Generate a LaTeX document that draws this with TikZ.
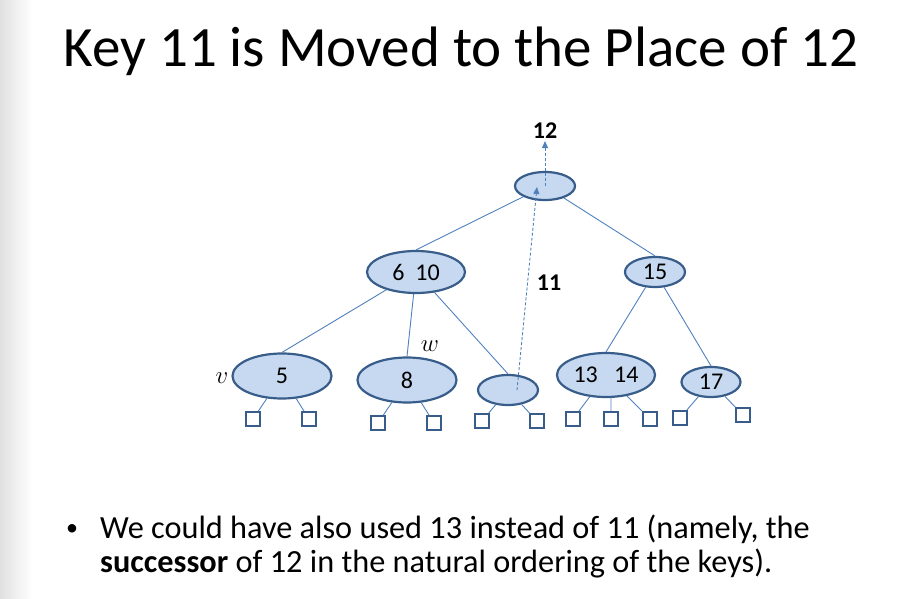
\documentclass[tikz,border=0pt]{standalone}
\usepackage{fontspec}
\setmainfont{Carlito}
\usetikzlibrary{shapes.geometric,arrows.meta}
\definecolor{keyfill}{RGB}{198,217,240}
\definecolor{keyline}{RGB}{56,93,138}
\definecolor{edgeblue}{RGB}{79,129,189}

\begin{document}
\begin{tikzpicture}[x=1pt,y=-1pt]
      \tikzset{
        key/.style={ellipse,draw=keyline,fill=keyfill,line width=2.2pt,inner sep=0pt,font=\fontsize{24}{28}\selectfont},
        leaf/.style={rectangle,draw=keyline,fill=white,line width=2pt,minimum size=14pt,inner sep=0pt},
        tedge/.style={draw=edgeblue,line width=0.9pt},
        move/.style={draw=edgeblue,line width=0.9pt,dash pattern=on 3pt off 2pt,-{Triangle[length=7pt,width=6pt]}},
        lbl/.style={font=\bfseries\fontsize{24}{28}\selectfont,inner sep=2pt}
      }
      \useasboundingbox (0,0) rectangle (922,599);
      \shade[left color=black!12,right color=white] (0,0) rectangle (32,599);

      \node[anchor=base,font=\fontsize{57}{68}\selectfont] (title) at (461,67) {Key 11 is Moved to the Place of 12};

      % the tree
      \node[key,minimum width=60pt,minimum height=28pt] (root) at (545,186) {};
      \node[key,minimum width=98pt,minimum height=42pt] (n610) at (416,272) {6\ \ 10};
      \node[key,minimum width=60pt,minimum height=30pt] (n15) at (655,272) {15};
      \node[key,minimum width=99pt,minimum height=45pt] (n5) at (282,376) {5};
      \node[key,minimum width=99pt,minimum height=45pt] (n8) at (407,380) {8};
      \node[key,minimum width=60pt,minimum height=30pt] (gap) at (508,390) {};
      \node[key,minimum width=98pt,minimum height=44pt] (n1314) at (606,375) {13\ \ \ 14};
      \node[key,minimum width=59pt,minimum height=30pt] (n17) at (711,382) {17};

      \foreach \name/\x/\y in {l1/253/419,l2/309/419,l3/378/423,l4/434/423,l5/482/421,l6/537/421,
                               l7/573/419,l8/611/419,l9/650/419,l10/680/418,l11/743/415}
        \node[leaf] (\name) at (\x,\y) {};

      \draw[tedge] (root) -- (n610.north)
                   (root) -- (n15.north)
                   (n610) -- (n5.north)
                   (n610) -- (n8.north)
                   (n610) -- (gap.north)
                   (n15) -- (n1314.north)
                   (n15) -- (n17.north);
      \draw[tedge] (n5) -- (l1)  (n5) -- (l2)
                   (n8) -- (l3)  (n8) -- (l4)
                   (gap) -- (l5) (gap) -- (l6)
                   (n1314) -- (l7) (l8 |- n1314.south) -- (l8) (n1314) -- (l9)
                   (n17) -- (l10) (n17) -- (l11);

      \node[font=\fontsize{28}{32}\selectfont] (v) at (222,378) {$v$};
      \node[font=\fontsize{28}{32}\selectfont] (w) at (430,346) {$w$};

      % key 11 moves up
      \node[lbl] (k12) at (545,131) {12};
      \node[lbl] (k11) at (549,283) {11};
      \coordinate (src) at (517,390);
      \coordinate (dst) at (537,187);
      \draw[move] (root.center) -- (k12);
      \draw[move] (src) -- (dst);

      \node[anchor=base,inner sep=0pt,font=\fontsize{24}{34}\selectfont] (dot) at (72,535) {\textbullet};
      \node[anchor=base west,inner sep=0pt,font=\fontsize{32.3}{34}\selectfont] (line1) at (100,538)
        {We could have also used 13 instead of 11 (namely, the};
      \node[anchor=base west,inner sep=0pt,font=\fontsize{32.3}{34}\selectfont] (line2) at (100,572)
        {\textbf{successor} of 12 in the natural ordering of the keys).};
\end{tikzpicture}
\end{document}
